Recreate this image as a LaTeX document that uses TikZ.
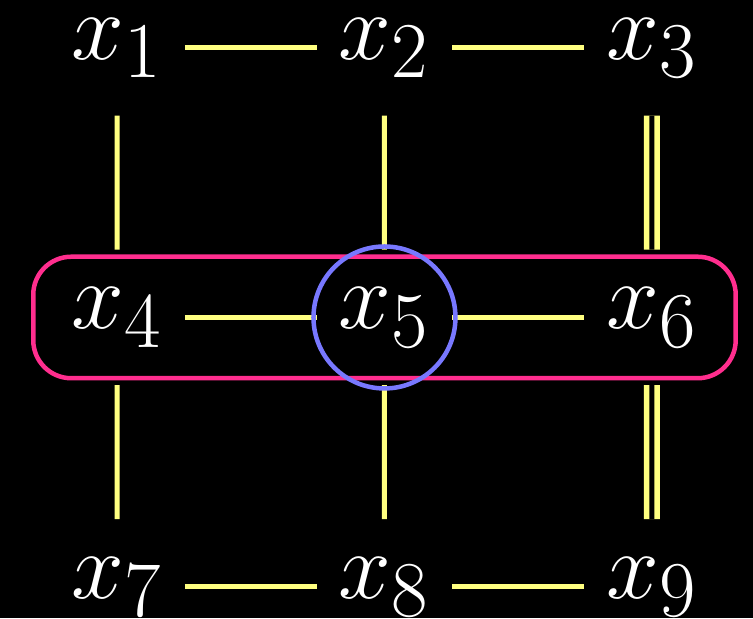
\documentclass[tikz,border=0pt]{standalone}
\usepackage{amsmath}
\usepackage{xcolor}
\usetikzlibrary{positioning, fit}
\definecolor{edgeyellow}{HTML}{FFFF80}
\definecolor{rowpink}{HTML}{FF2E8E}
\definecolor{ringblue}{HTML}{7878FF}
\tikzset{
  var/.style={rectangle, text=white, minimum width=1.235cm, minimum height=1.235cm,
              inner sep=0pt, font=\Huge, scale=2.17},
  edge/.style={draw=edgeyellow, line width=0.1cm},
  dedge/.style={draw=edgeyellow, double=black, double distance=0.1cm, line width=0.11cm},
  rowbox/.style={rectangle, rounded corners=0.76cm, draw=rowpink, line width=0.09cm},
  ring/.style={circle, draw=ringblue, line width=0.09cm, minimum size=2.84cm, inner sep=0pt},
}
\begin{document}
\begin{tikzpicture}[x=0.02cm, y=-0.02cm, node distance=2.68cm and 2.64cm]
  \fill[black] (0,0) rectangle (753,618);
  \useasboundingbox (0,0) rectangle (753,618);

  \node[var] (x1) at (117,48) {$x_1$};
  \node[var, right=of x1] (x2) {$x_2$};
  \node[var, right=of x2] (x3) {$x_3$};
  \node[var, below=of x1] (x4) {$x_4$};
  \node[var, right=of x4] (x5) {$x_5$};
  \node[var, right=of x5] (x6) {$x_6$};
  \node[var, below=of x4] (x7) {$x_7$};
  \node[var, right=of x7] (x8) {$x_8$};
  \node[var, right=of x8] (x9) {$x_9$};

  \draw[edge] (x1) -- (x2);
  \draw[edge] (x2) -- (x3);
  \draw[edge] (x4) -- (x5);
  \draw[edge] (x5) -- (x6);
  \draw[edge] (x7) -- (x8);
  \draw[edge] (x8) -- (x9);
  \draw[edge] (x1) -- (x4);
  \draw[edge] (x4) -- (x7);
  \draw[edge] (x2) -- (x5);
  \draw[edge] (x5) -- (x8);
  \draw[dedge] (x3) -- (x6);
  \draw[dedge] (x6) -- (x9);

  \node[rowbox, fit=(x4)(x6), inner xsep=0.32cm, inner ysep=-0.14cm] (row) {};
  \node[ring] (focus) at (x5) {};
\end{tikzpicture}
\end{document}
